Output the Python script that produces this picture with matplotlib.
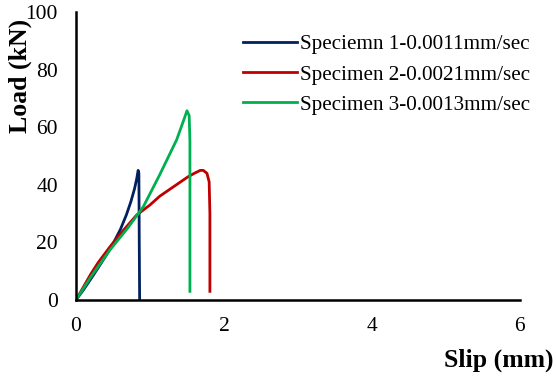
import matplotlib
matplotlib.use('Agg')
import matplotlib.pyplot as plt

#%% data
slip1 = [0, 0.1, 0.2, 0.3, 0.4, 0.5, 0.6, 0.68, 0.74, 0.79, 0.82, 0.84, 0.85, 0.852, 0.855, 0.86]
load1 = [0, 3.5, 7.3, 11.2, 15.2, 19.5, 24.5, 29.5, 34, 38.5, 42, 45, 44, 35, 20, 0.5]

slip2 = [0, 0.1, 0.2, 0.3, 0.46, 0.6, 0.82, 1.0, 1.13, 1.3, 1.51, 1.6, 1.68, 1.72, 1.77, 1.80, 1.81, 1.81]
load2 = [0, 4.5, 9, 13, 18.5, 23, 29.5, 33, 36, 39, 42.7, 44, 45, 45, 44, 41, 30, 3]

slip3 = [0, 0.2, 0.46, 0.7, 0.91, 1.13, 1.36, 1.45, 1.5, 1.53, 1.54, 1.54]
load3 = [0, 8, 17.4, 25, 32.4, 43.4, 55.6, 62, 65.7, 64, 55, 3]

labels = ['Speciemn 1-0.0011mm/sec', 'Specimen 2-0.0021mm/sec', 'Specimen 3-0.0013mm/sec']
colors = ['#002060', '#C00000', '#00B050']

plt.rcParams['font.family'] = 'Liberation Serif'

fig = plt.figure(figsize=(5.56, 3.81), dpi=100)
ax = fig.add_axes([0.1367, 0.2126, 0.7983, 0.756])

for xs, ys, lab, c in zip([slip1, slip2, slip3], [load1, load2, load3], labels, colors):
    ax.plot(xs, ys, color=c, lw=2, label=lab, solid_joinstyle='round')

ax.set_xlim(0, 6)
ax.set_ylim(0, 100)
ax.set_xticks([0, 2, 4, 6])
ax.set_yticks([0, 20, 40, 60, 80, 100])
ax.tick_params(length=0, labelsize=15.5)
ax.tick_params(axis='y', pad=13)
ax.tick_params(axis='x', pad=12)
for s in ['top', 'right']:
    ax.spines[s].set_visible(False)
for s in ['left', 'bottom']:
    ax.spines[s].set_linewidth(1.8)

ax.legend(loc='upper left', bbox_to_anchor=(0.376, 0.922), frameon=False,
          fontsize=15.2, handlelength=2.55, handletextpad=0.15, labelspacing=0.5,
          borderpad=0, borderaxespad=0)

fig.text(0.036, 0.80, 'Load (kN)', rotation=90, ha='center', va='center',
         fontsize=18.5, fontweight='bold')
fig.text(0.995, 0.055, 'Slip (mm)', ha='right', va='center',
         fontsize=18.5, fontweight='bold')

fig.savefig('out.png', dpi=100)
